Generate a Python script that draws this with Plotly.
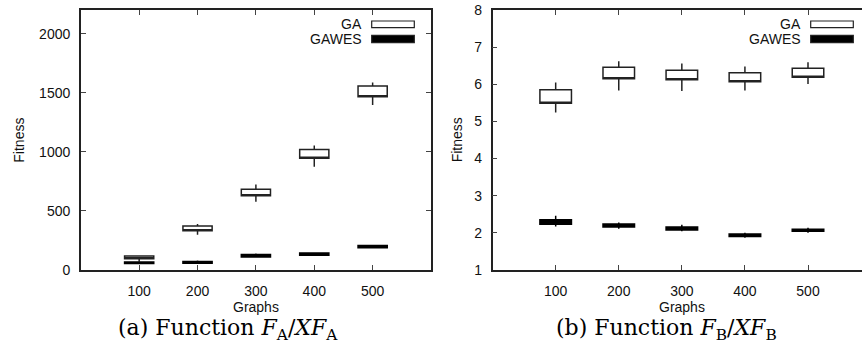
import plotly.graph_objects as go

W, H = 862, 346

graphs = [100, 200, 300, 400, 500]

# Panel (a): Function F_A / XF_A
a_ga_q1 = [96, 332, 628, 946, 1465]
a_ga_q3 = [118, 372, 684, 1020, 1557]
a_ga_lo = [70, 298, 577, 873, 1397]
a_ga_hi = [124, 389, 724, 1053, 1586]
a_gw_q1 = [54, 57, 111, 125, 189]
a_gw_q3 = [67, 71, 131, 144, 207]
a_gw_lo = [48, 50, 105, 120, 184]
a_gw_hi = [74, 80, 140, 150, 213]

# Panel (b): Function F_B / XF_B
b_ga_q1 = [5.49, 6.15, 6.12, 6.07, 6.19]
b_ga_q3 = [5.85, 6.46, 6.38, 6.31, 6.43]
b_ga_lo = [5.24, 5.83, 5.82, 5.83, 6.01]
b_ga_hi = [6.05, 6.62, 6.56, 6.48, 6.59]
b_gw_q1 = [2.23, 2.16, 2.08, 1.90, 2.04]
b_gw_q3 = [2.35, 2.24, 2.16, 1.97, 2.10]
b_gw_lo = [2.17, 2.11, 2.04, 1.87, 2.00]
b_gw_hi = [2.46, 2.28, 2.22, 2.00, 2.14]

y_ticks_a = [0, 500, 1000, 1500, 2000]
y_ticks_b = [1, 2, 3, 4, 5, 6, 7, 8]
legend_names = ["GA", "GAWES"]

FONT = "Liberation Sans"
SERIF = "DejaVu Serif"


def px(x):
    return x / W


def py(y):
    return 1 - y / H


def box(x, q1, q3, lo, hi, xa, ya, filled):
    return go.Box(
        x=x, q1=q1, q3=q3, median=q1, lowerfence=lo, upperfence=hi,
        xaxis=xa, yaxis=ya, width=50, whiskerwidth=0,
        fillcolor="#000000" if filled else "#ffffff",
        line=dict(color="#000000" if filled else "#222222", width=1.5),
        boxpoints=False, hoverinfo="skip", showlegend=False,
    )


fig = go.Figure()
fig.add_trace(box(graphs, a_ga_q1, a_ga_q3, a_ga_lo, a_ga_hi, "x", "y", False))
fig.add_trace(box(graphs, a_gw_q1, a_gw_q3, a_gw_lo, a_gw_hi, "x", "y", True))
fig.add_trace(box(graphs, b_ga_q1, b_ga_q3, b_ga_lo, b_ga_hi, "x2", "y2", False))
fig.add_trace(box(graphs, b_gw_q1, b_gw_q3, b_gw_lo, b_gw_hi, "x2", "y2", True))

axis_common = dict(
    showgrid=False, zeroline=False, showline=True, linecolor="#222222",
    linewidth=1.5, ticks="inside", ticklen=5, tickwidth=1, tickcolor="#444444",
    tickfont=dict(family=FONT, size=14, color="#111111"), automargin=False,
)

ydom = [py(270), py(10)]
fig.update_layout(
    width=W, height=H,
    margin=dict(l=0, r=0, t=0, b=0, pad=0, autoexpand=False),
    paper_bgcolor="white", plot_bgcolor="white",
    boxmode="overlay", showlegend=False,
    xaxis=dict(domain=[px(80.8), px(431)], range=[0, 600], tickvals=graphs,
               mirror="ticks", ticklabelstandoff=7, anchor="y", **axis_common),
    yaxis=dict(domain=ydom, range=[0, 2200], tickvals=y_ticks_a,
               mirror="ticks", ticklabelstandoff=6, anchor="x", **axis_common),
    xaxis2=dict(domain=[px(492.6), 1], range=[0, 585.6], tickvals=graphs,
                mirror="ticks", ticklabelstandoff=7, anchor="y2", **axis_common),
    yaxis2=dict(domain=ydom, range=[1, 8], tickvals=y_ticks_b,
                mirror=False, ticklabelstandoff=6, anchor="x2", **axis_common),
)

ann = []
shapes = []
sans = dict(family=FONT, size=14, color="#111111")
# axis titles
for xc in (18.7, 457.3):
    ann.append(dict(x=px(xc), y=py(140), xref="paper", yref="paper",
                    text="Fitness", textangle=-90, showarrow=False,
                    xanchor="center", yanchor="middle", font=sans))
ann.append(dict(x=px(256), y=py(307), xref="paper", yref="paper", text="Graphs",
                xanchor="center", yanchor="middle", showarrow=False, font=sans))
ann.append(dict(x=300, y=py(307), xref="x2", yref="paper", text="Graphs",
                xanchor="center", yanchor="middle", showarrow=False, font=sans))
# captions
captions = [
    (227.5, "(a) Function <i>F</i><sub>A</sub>/<i>XF</i><sub>A</sub>"),
    (666.7, "(b) Function <i>F</i><sub>B</sub>/<i>XF</i><sub>B</sub>"),
]
for xc, t in captions:
    ann.append(dict(x=px(xc), y=py(329), xref="paper", yref="paper", text=t,
                    xanchor="center", yanchor="middle", showarrow=False,
                    font=dict(family=SERIF, size=22, color="#000000")))

# gnuplot-style key
for text_right, rx0, rx1 in ((364, 371.7, 414.3), (803, 810.7, 853.3)):
    for name, (y0, y1), fill in zip(legend_names, ((21, 27.7), (35.3, 42.7)), ("white", "black")):
        ann.append(dict(x=px(text_right), y=py((y0 + y1) / 2), xref="paper", yref="paper",
                        text=name, xanchor="right", yanchor="middle", showarrow=False,
                        font=sans))
        shapes.append(dict(type="rect", xref="paper", yref="paper",
                           x0=px(rx0), x1=px(rx1), y0=py(y1), y1=py(y0),
                           fillcolor=fill, line=dict(color="#222222", width=1.2)))

fig.update_layout(annotations=ann, shapes=shapes)
fig.write_html("out.html", config={"displayModeBar": False},
               post_script="document.body.style.margin='0';")
